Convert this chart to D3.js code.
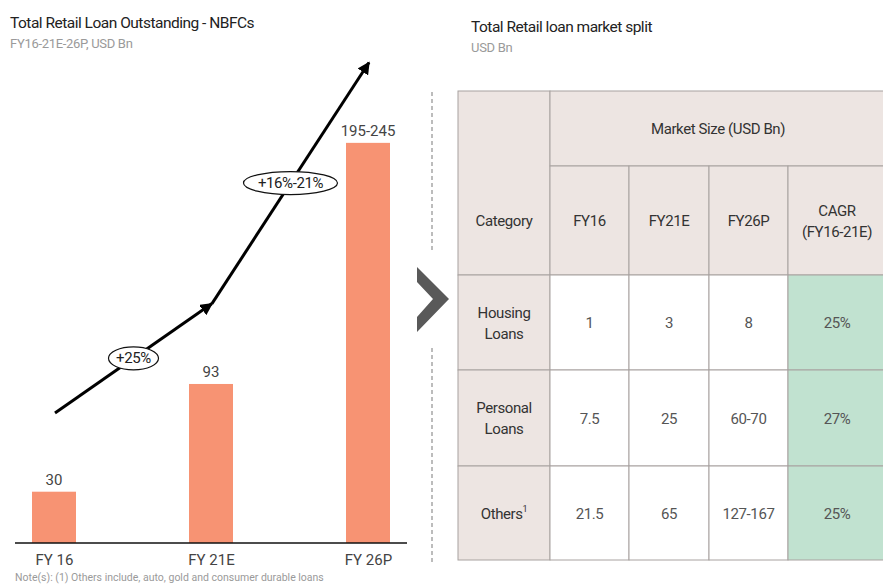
<!DOCTYPE html>
<html>
<head>
<meta charset="utf-8">
<script src="https://cdn.jsdelivr.net/npm/d3@7"></script>
<style>
  body { margin: 0; background: #fff; }
  svg { display: block; font-family: Roboto, "Noto Sans", sans-serif; }
</style>
</head>
<body>
<svg id="chart" width="883" height="585"></svg>
<script>
// left chart data
const years = ['FY 16', 'FY 21E', 'FY 26P'];
const loanValues = [30, 93, 234];          // drawn height (FY26P shown as a range)
const loanLabels = ['30', '93', '195-245'];
const arrowLevels = [76, 140, 281];        // growth arrow, in USD Bn units
const growthLabels = ['+25%', '+16%-21%'];

// right table data
const categories = [['Housing', 'Loans'], ['Personal', 'Loans'], ['Others']];
const fy16 = ['1', '7.5', '21.5'];
const fy21 = ['3', '25', '65'];
const fy26 = ['8', '60-70', '127-167'];
const cagr = ['25%', '27%', '25%'];
const colHeaders = [['Category'], ['FY16'], ['FY21E'], ['FY26P'], ['CAGR', '(FY16-21E)']];

const svg = d3.select('#chart');

// titles
function title(x, y, main, sub) {
    svg.append('text').attr('x', x).attr('y', y)
        .attr('font-size', 15.5).attr('fill', '#222').attr('letter-spacing', -0.5)
        .text(main);
    svg.append('text').attr('x', x).attr('y', y + 20)
        .attr('font-size', 13).attr('fill', '#9a9a9a').attr('letter-spacing', -0.3)
        .text(sub);
}
title(10, 28, 'Total Retail Loan Outstanding - NBFCs', 'FY16-21E-26P, USD Bn');
title(471, 32, 'Total Retail loan market split', 'USD Bn');

// ---- bar chart ----
const x = d3.scalePoint().domain(years).range([54, 368]);
const y = d3.scaleLinear().domain([0, 250]).range([543, 115.5]);
const barW = 44;

svg.selectAll('rect.bar')
    .data(loanValues)
    .enter().append('rect')
        .attr('class', 'bar')
        .attr('x', (d, i) => x(years[i]) - barW / 2)
        .attr('y', d => y(d))
        .attr('width', barW)
        .attr('height', d => y(0) - y(d))
        .attr('fill', '#f79373');

svg.selectAll('text.val')
    .data(loanValues)
    .enter().append('text')
        .attr('class', 'val')
        .attr('x', (d, i) => x(years[i]))
        .attr('y', d => y(d) - 7)
        .attr('text-anchor', 'middle')
        .attr('font-size', 15).attr('fill', '#444')
        .text((d, i) => loanLabels[i]);

const axis = svg.append('g')
    .attr('transform', 'translate(0,' + y(0) + ')')
    .call(d3.axisBottom(x).tickSize(0).tickPadding(11));
axis.select('.domain').attr('d', 'M15,0H407').attr('stroke', '#111').attr('stroke-width', 1.3);
axis.selectAll('text').attr('font-size', 15).attr('fill', '#444')
    .attr('font-family', 'Roboto, sans-serif');

svg.append('text').attr('x', 15).attr('y', 581)
    .attr('font-size', 10.5).attr('fill', '#9a9a9a')
    .text('Note(s):  (1) Others include, auto, gold and consumer durable loans');

// growth arrows
const defs = svg.append('defs');
defs.append('marker')
    .attr('id', 'head')
    .attr('viewBox', '0 0 10 10')
    .attr('refX', 9).attr('refY', 5)
    .attr('markerWidth', 4.2).attr('markerHeight', 4.2)
    .attr('orient', 'auto')
    .append('path').attr('d', 'M0,0L10,5L0,10Z').attr('fill', '#000');

const pts = years.map((yr, i) => [x(yr) + 1, y(arrowLevels[i])]);
for (let i = 0; i < 2; i++) {
    svg.append('line')
        .attr('x1', pts[i][0]).attr('y1', pts[i][1])
        .attr('x2', pts[i + 1][0]).attr('y2', pts[i + 1][1])
        .attr('stroke', '#000').attr('stroke-width', 3)
        .attr('marker-end', 'url(#head)');
}
growthLabels.forEach((lab, i) => {
    const cx = (pts[i][0] + pts[i + 1][0]) / 2;
    const cy = (pts[i][1] + pts[i + 1][1]) / 2;
    const rx = i === 0 ? 25 : 47;
    svg.append('ellipse').attr('cx', cx).attr('cy', cy)
        .attr('rx', rx).attr('ry', 11.5)
        .attr('fill', '#fff').attr('stroke', '#111').attr('stroke-width', 1.2);
    svg.append('text').attr('x', cx).attr('y', cy + 5)
        .attr('text-anchor', 'middle').attr('font-size', 15).attr('fill', '#222')
        .attr('letter-spacing', -0.4)
        .text(lab);
});

// divider + chevron
svg.append('line').attr('x1', 432).attr('x2', 432).attr('y1', 92).attr('y2', 252)
    .attr('stroke', '#999').attr('stroke-width', 1.3).attr('stroke-dasharray', '4,3');
svg.append('line').attr('x1', 432).attr('x2', 432).attr('y1', 348).attr('y2', 565)
    .attr('stroke', '#999').attr('stroke-width', 1.3).attr('stroke-dasharray', '4,3');
svg.append('path')
    .attr('d', 'M417,267L449,299L417,332L417,317L433,299L417,282Z')
    .attr('fill', '#595959');

// ---- table ----
const colX = [458, 550, 629, 709, 788, 886];
const rowY = [91, 166, 275, 370, 466, 560];
const headBg = '#ede5e2', green = '#c1e2d0', line = '#a8a2a0';
const tbl = svg.append('g');

function cell(c0, c1, r0, r1, fill) {
    tbl.append('rect')
        .attr('x', colX[c0]).attr('y', rowY[r0])
        .attr('width', colX[c1] - colX[c0]).attr('height', rowY[r1] - rowY[r0])
        .attr('fill', fill).attr('stroke', line).attr('stroke-width', 1);
}
function cellText(c0, c1, r0, r1, lines, color, sup) {
    const cx = (colX[c0] + colX[c1]) / 2;
    const cy = (rowY[r0] + rowY[r1]) / 2;
    const lh = 21;
    lines.forEach((s, k) => {
        const t = tbl.append('text')
            .attr('x', cx)
            .attr('y', cy + (k - (lines.length - 1) / 2) * lh + 5.5)
            .attr('text-anchor', 'middle')
            .attr('font-size', 15).attr('fill', color).attr('letter-spacing', -0.4)
            .text(s);
        if (sup) {
            t.append('tspan').attr('font-size', 9).attr('dy', -7).text(sup);
        }
    });
}

// header rows
cell(0, 1, 0, 2, headBg);
cell(1, 5, 0, 1, headBg);
cellText(1, 5, 0, 1, ['Market Size (USD Bn)'], '#333');
colHeaders.forEach((h, c) => {
    if (c > 0) cell(c, c + 1, 1, 2, headBg);
    cellText(c, c + 1, 1, 2, h, '#333');
});

// body rows
const cols = [fy16, fy21, fy26, cagr];
categories.forEach((cat, r) => {
    cell(0, 1, r + 2, r + 3, headBg);
    const isOther = cat[0] === 'Others';
    cellText(0, 1, r + 2, r + 3, cat, '#333', isOther ? '1' : null);
    cols.forEach((vals, c) => {
        cell(c + 1, c + 2, r + 2, r + 3, c === 3 ? green : '#fff');
        cellText(c + 1, c + 2, r + 2, r + 3, [vals[r]], '#555');
    });
});
</script>
</body>
</html>
